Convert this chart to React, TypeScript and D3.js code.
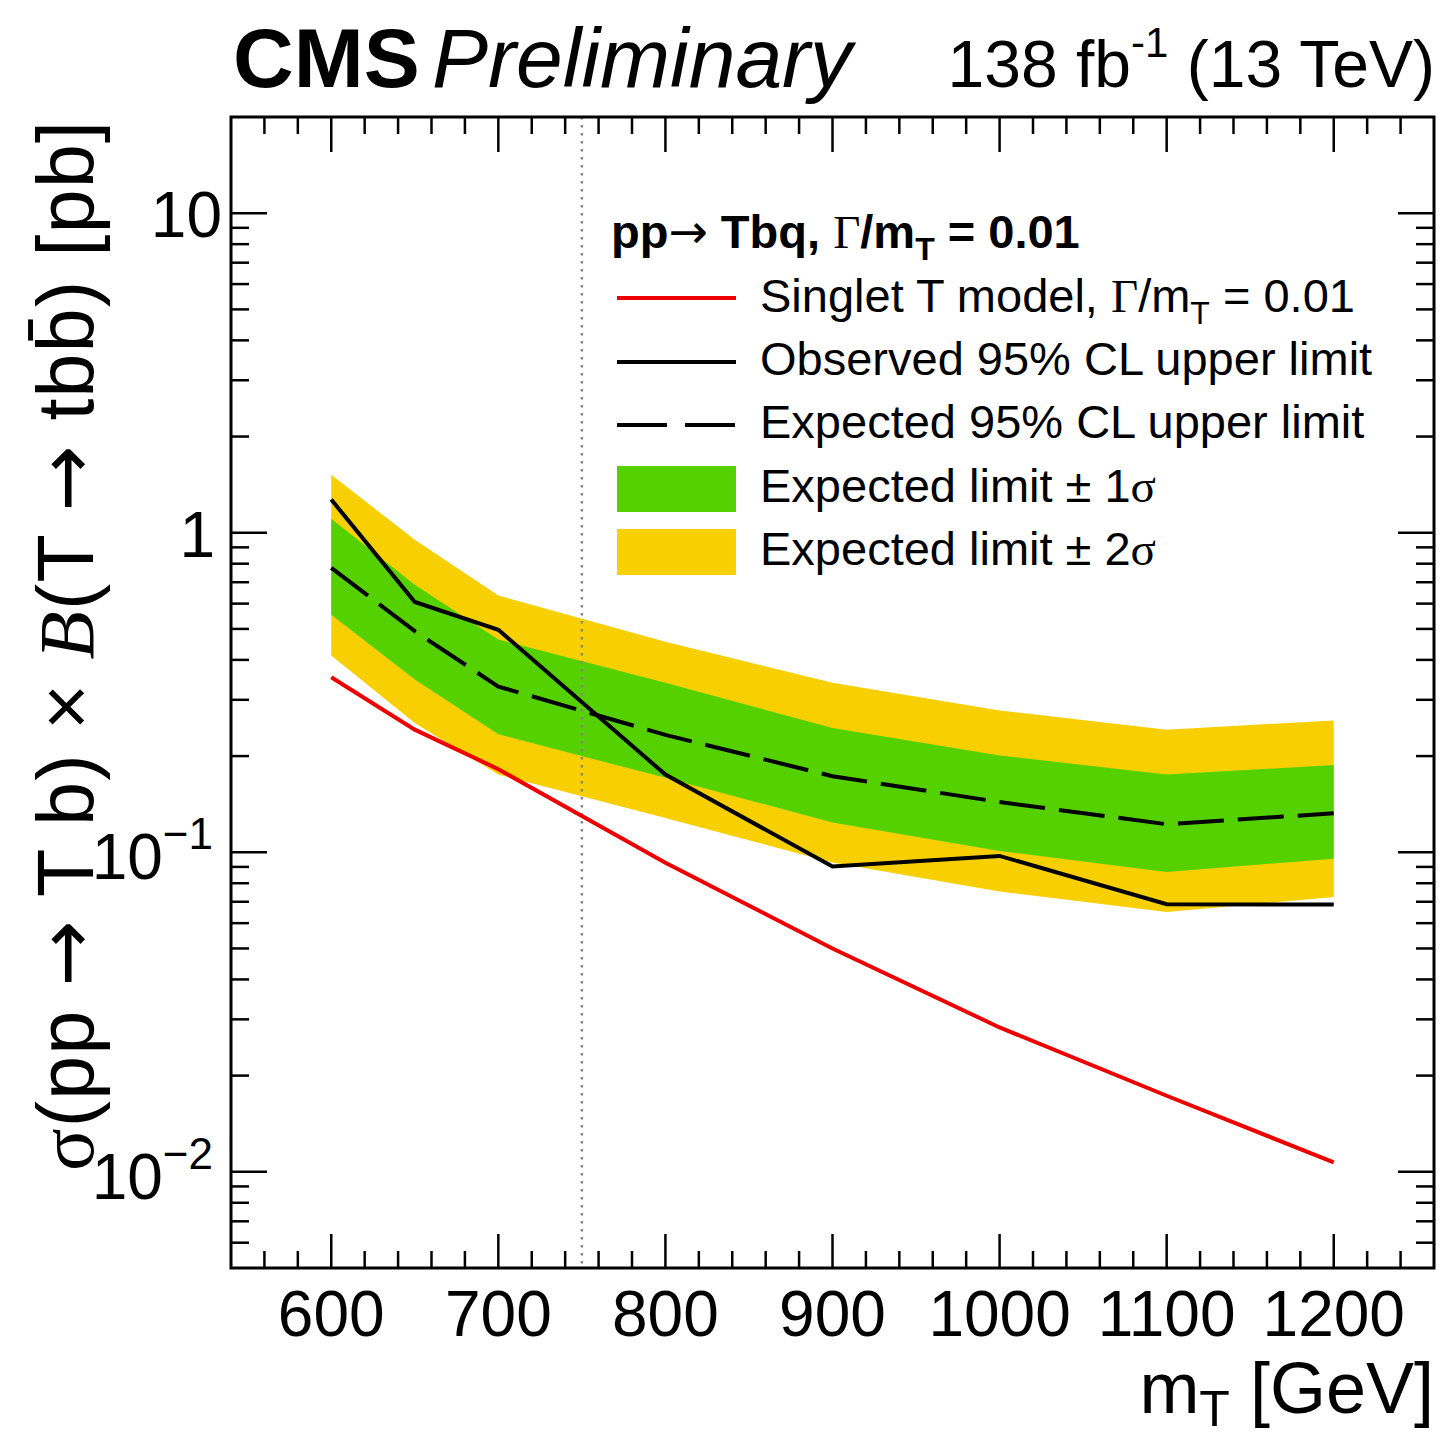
import React from "react";
import * as d3 from "d3";

const masses = [600, 650, 700, 800, 900, 1000, 1100, 1200];
const theory = [0.353, 0.242, 0.182, 0.0927, 0.05, 0.0283, 0.0173, 0.0107];
const observed = [1.27, 0.607, 0.497, 0.175, 0.0902, 0.0974, 0.0688, 0.0686];
const expected = [0.776, 0.492, 0.33, 0.233, 0.173, 0.1436, 0.1224, 0.1324];
const exp1Up = [1.106, 0.688, 0.463, 0.339, 0.245, 0.201, 0.175, 0.1875];
const exp1Down = [0.554, 0.347, 0.234, 0.171, 0.124, 0.101, 0.0868, 0.0955];
const exp2Up = [1.518, 0.951, 0.636, 0.456, 0.339, 0.278, 0.242, 0.2585];
const exp2Down = [0.413, 0.254, 0.175, 0.128, 0.0929, 0.0754, 0.065, 0.0725];

const xMajorTicks = [600, 700, 800, 900, 1000, 1100, 1200];
const yMajorTicks = [0.01, 0.1, 1, 10];
const yTickExp = ["-2", "-1", "0", "1"];
const cutLine = 750;

const W = 1445, H = 1438;
const L = 231, R = 1434, T = 117, B = 1268;
const SANS = "'Liberation Sans', Arial, Helvetica, sans-serif";
const SERIF = "'Liberation Serif', 'Times New Roman', serif";
const ARROW = "'DejaVu Sans', sans-serif";
const GREEN = "#55d100";
const YELLOW = "#f8cf00";
const RED = "#ee0000";

export default function App() {
  const x = d3.scaleLinear().domain([540, 1260]).range([L, R]);
  const y = d3.scaleLog().domain([0.005, 20]).range([B, T]);

  const band = (lo: number[], hi: number[]) =>
    d3
      .area<number>()
      .x((_, i) => x(masses[i]))
      .y0((_, i) => y(lo[i]))
      .y1((_, i) => y(hi[i]))(masses) as string;
  const line = (vals: number[]) =>
    d3
      .line<number>()
      .x((_, i) => x(masses[i]))
      .y((_, i) => y(vals[i]))(masses) as string;

  const xMinor = d3.range(540, 1261, 20).filter((v) => v % 100 !== 0 && v > 540 && v < 1260);
  const yMinor: number[] = [];
  for (let e = -3; e <= 1; e++) {
    for (let k = 2; k <= 9; k++) {
      const v = k * Math.pow(10, e);
      if (v > 0.0050001 && v < 19.999) yMinor.push(v);
    }
  }

  const tickW = 2.5;
  return (
    <svg
      width={W}
      height={H}
      style={{ position: "absolute", left: 0, top: 0, background: "#fff" }}
      fontFamily={SANS}
    >
      <rect x={0} y={0} width={W} height={H} fill="#fff" />
      {/* bands */}
      <path d={band(exp2Down, exp2Up)} fill={YELLOW} />
      <path d={band(exp1Down, exp1Up)} fill={GREEN} />
      {/* dotted line */}
      <line
        x1={x(cutLine)}
        x2={x(cutLine)}
        y1={T}
        y2={B}
        stroke="#888"
        strokeWidth={2.5}
        strokeDasharray="2.5 5.5"
      />
      {/* lines */}
      <path d={line(theory)} fill="none" stroke={RED} strokeWidth={4} />
      <path d={line(observed)} fill="none" stroke="#000" strokeWidth={4} />
      <path
        d={line(expected)}
        fill="none"
        stroke="#000"
        strokeWidth={4}
        strokeDasharray="46 14"
      />

      {/* ticks */}
      <g stroke="#000" strokeWidth={tickW}>
        {xMajorTicks.map((v) => (
          <g key={"xM" + v}>
            <line x1={x(v)} x2={x(v)} y1={B} y2={B - 34} />
            <line x1={x(v)} x2={x(v)} y1={T} y2={T + 35} />
          </g>
        ))}
        {xMinor.map((v) => (
          <g key={"xm" + v}>
            <line x1={x(v)} x2={x(v)} y1={B} y2={B - 17} />
            <line x1={x(v)} x2={x(v)} y1={T} y2={T + 17} />
          </g>
        ))}
        {yMajorTicks.map((v) => (
          <g key={"yM" + v}>
            <line x1={L} x2={L + 36} y1={y(v)} y2={y(v)} />
            <line x1={R} x2={R - 36} y1={y(v)} y2={y(v)} />
          </g>
        ))}
        {yMinor.map((v) => (
          <g key={"ym" + v}>
            <line x1={L} x2={L + 18} y1={y(v)} y2={y(v)} />
            <line x1={R} x2={R - 18} y1={y(v)} y2={y(v)} />
          </g>
        ))}
      </g>
      {/* frame */}
      <rect x={L} y={T} width={R - L} height={B - T} fill="none" stroke="#000" strokeWidth={3} />

      {/* x tick labels */}
      {xMajorTicks.map((v) => (
        <text key={"xl" + v} x={x(v)} y={1336} fontSize={64} textAnchor="middle" fill="#000">
          {v}
        </text>
      ))}
      {/* y tick labels */}
      {yMajorTicks.map((v, i) => {
        const e = yTickExp[i];
        if (e === "0")
          return (
            <text key={"yl" + v} x={215} y={y(v) + 24} fontSize={64} textAnchor="end">
              1
            </text>
          );
        if (e === "1")
          return (
            <text key={"yl" + v} x={222} y={y(v) + 24} fontSize={64} textAnchor="end">
              10
            </text>
          );
        return (
          <text key={"yl" + v} x={213} y={y(v) + 27} fontSize={64} textAnchor="end">
            10
            <tspan dy={-30} fontSize={44}>
              {e.replace("-", "\u2212")}
            </tspan>
          </text>
        );
      })}

      {/* axis titles */}
      <text x={R} y={1413} fontSize={72} textAnchor="end">
        m
        <tspan fontSize={50} dy={13}>
          T
        </tspan>
        <tspan dy={-13}> [GeV]</tspan>
      </text>
      <text
        transform="translate(93, 646) rotate(-90)"
        fontSize={79}
        textAnchor="middle"
        textLength={1050}
        lengthAdjust="spacing"
      >
        <tspan fontFamily={SERIF}>σ</tspan>
        <tspan>(pp </tspan>
        <tspan fontFamily={ARROW}>→</tspan>
        <tspan> T b) × </tspan>
        <tspan fontFamily={SERIF} fontStyle="italic">B</tspan>
        <tspan>(T </tspan>
        <tspan fontFamily={ARROW}>→</tspan>
        <tspan> tb</tspan>
        <tspan>b&#x0304;</tspan>
        <tspan>) [pb]</tspan>
      </text>

      {/* title */}
      <text x={233} y={87} fontSize={84} fontWeight="bold">
        CMS
      </text>
      <text x={432} y={87} fontSize={84} fontStyle="italic">
        Preliminary
      </text>
      <text x={1435} y={87} fontSize={66} textAnchor="end">
        138 fb
        <tspan fontSize={42} dy={-30}>
          -1
        </tspan>
        <tspan dy={30}> (13 TeV)</tspan>
      </text>

      {/* legend */}
      <text x={611} y={248} fontSize={47} fontWeight="bold">
        pp
        <tspan fontFamily={ARROW} fontWeight="normal">→</tspan> Tbq,{" "}
        <tspan fontFamily={SERIF} fontWeight="normal">
          Γ
        </tspan>
        /m
        <tspan fontSize={32} dy={12}>
          T
        </tspan>
        <tspan dy={-12}> = 0.01</tspan>
      </text>
      <line x1={617} x2={736} y1={298} y2={298} stroke={RED} strokeWidth={4} />
      <text x={760} y={312} fontSize={47}>
        Singlet T model,{" "}
        <tspan fontFamily={SERIF}>Γ</tspan>
        /m
        <tspan fontSize={32} dy={12}>
          T
        </tspan>
        <tspan dy={-12}> = 0.01</tspan>
      </text>
      <line x1={617} x2={736} y1={362} y2={362} stroke="#000" strokeWidth={4} />
      <text x={760} y={375} fontSize={47}>
        Observed 95% CL upper limit
      </text>
      <line
        x1={617}
        x2={736}
        y1={425}
        y2={425}
        stroke="#000"
        strokeWidth={4}
        strokeDasharray="50 18"
      />
      <text x={760} y={438} fontSize={47}>
        Expected 95% CL upper limit
      </text>
      <rect x={617} y={466} width={119} height={46} fill={GREEN} />
      <text x={760} y={502} fontSize={47}>
        Expected limit ± 1<tspan fontFamily={SERIF}>σ</tspan>
      </text>
      <rect x={617} y={529} width={119} height={46} fill={YELLOW} />
      <text x={760} y={565} fontSize={47}>
        Expected limit ± 2<tspan fontFamily={SERIF}>σ</tspan>
      </text>
    </svg>
  );
}
